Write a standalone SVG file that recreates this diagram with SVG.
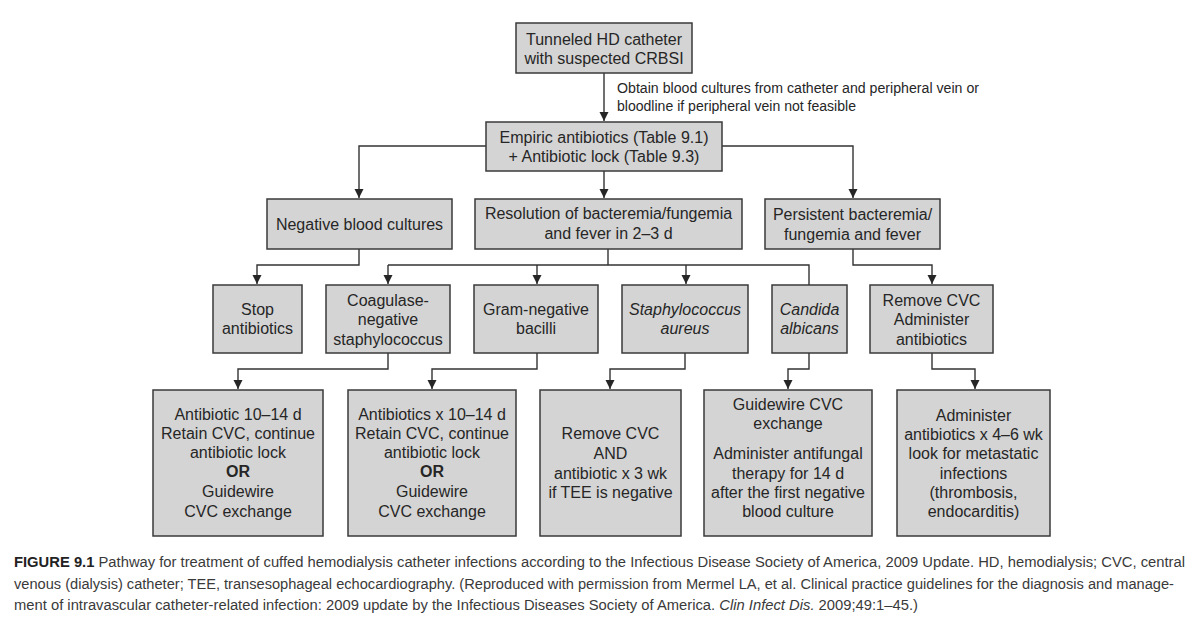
<svg xmlns="http://www.w3.org/2000/svg" width="1200" height="638" viewBox="0 0 1200 638">
<defs>
<marker id="arr" markerUnits="userSpaceOnUse" markerWidth="10" markerHeight="10" refX="9" refY="4.5" orient="auto">
<path d="M0,0 L9,4.5 L0,9 z" fill="#262626"/>
</marker>
<style>
.box{fill:#d4d4d4;stroke:#3a3a3a;stroke-width:1.5}
.t{font-family:"Liberation Sans",Arial,Helvetica,sans-serif;font-size:16px;fill:#262626;text-anchor:middle}
.i{font-style:italic}
.b{font-weight:bold}
.ann{font-family:"Liberation Sans",Arial,Helvetica,sans-serif;font-size:14px;fill:#262626}
.cap{font-family:"Liberation Sans Narrow","Liberation Sans",Arial,sans-serif;font-size:14px;fill:#3a3a3a}
.c{fill:none;stroke:#333;stroke-width:1.4}
.a{marker-end:url(#arr)}
</style>
</defs>
<rect width="1200" height="638" fill="#fff"/>

<g id="connectors">
<path class="c a" d="M604,73 V121"/>
<path class="c a" d="M486,146 H359 V198"/>
<path class="c a" d="M722,146 H853 V198"/>
<path class="c a" d="M604,171 V198"/>
<path class="c a" d="M359,249 V265 H257 V284"/>
<path class="c" d="M608,249 V265"/>
<path class="c" d="M388,265 H809 V285"/>
<path class="c a" d="M388,265 V284"/>
<path class="c a" d="M537,265 V284"/>
<path class="c a" d="M686,265 V284"/>
<path class="c a" d="M853,249 V265 H932 V284"/>
<path class="c a" d="M388,353 V369 H238 V389"/>
<path class="c a" d="M537,353 V369 H432 V389"/>
<path class="c a" d="M685,353 V369 H610 V389"/>
<path class="c a" d="M809,353 V369 H788 V389"/>
<path class="c a" d="M932,353 V369 H975 V389"/>
</g>

<text class="ann" x="617" y="93" textLength="362" lengthAdjust="spacingAndGlyphs">Obtain blood cultures from catheter and peripheral vein or</text>
<text class="ann" x="617" y="111" textLength="239" lengthAdjust="spacingAndGlyphs">bloodline if peripheral vein not feasible</text>

<g id="n-top">
<rect class="box" x="516" y="23" width="176" height="50"/>
<text class="t" x="604" y="45">Tunneled HD catheter</text>
<text class="t" x="604" y="64">with suspected CRBSI</text>
</g>
<g id="n-empiric">
<rect class="box" x="486" y="122" width="236" height="49"/>
<text class="t" x="604" y="143">Empiric antibiotics (Table 9.1)</text>
<text class="t" x="604" y="162">+ Antibiotic lock (Table 9.3)</text>
</g>
<g id="n-negative">
<rect class="box" x="267" y="199" width="185" height="50"/>
<text class="t" x="359.5" y="230">Negative blood cultures</text>
</g>
<g id="n-resolution">
<rect class="box" x="475" y="199" width="267" height="50"/>
<text class="t" x="608.5" y="219">Resolution of bacteremia/fungemia</text>
<text class="t" x="608.5" y="239">and fever in 2–3 d</text>
</g>
<g id="n-persistent">
<rect class="box" x="765" y="199" width="175" height="50"/>
<text class="t" x="852.5" y="220">Persistent bacteremia/</text>
<text class="t" x="852.5" y="240">fungemia and fever</text>
</g>
<g id="n-stop">
<rect class="box" x="213" y="285" width="89" height="68"/>
<text class="t" x="257.5" y="315">Stop</text>
<text class="t" x="257.5" y="334">antibiotics</text>
</g>
<g id="n-coag">
<rect class="box" x="326" y="285" width="124" height="68"/>
<text class="t" x="388" y="306">Coagulase-</text>
<text class="t" x="388" y="325">negative</text>
<text class="t" x="388" y="345">staphylococcus</text>
</g>
<g id="n-gram">
<rect class="box" x="474" y="285" width="124" height="68"/>
<text class="t" x="536" y="315">Gram-negative</text>
<text class="t" x="536" y="334">bacilli</text>
</g>
<g id="n-staph">
<rect class="box" x="622" y="285" width="126" height="68"/>
<text class="t i" x="685" y="315">Staphylococcus</text>
<text class="t i" x="685" y="334">aureus</text>
</g>
<g id="n-candida">
<rect class="box" x="772" y="285" width="75" height="68"/>
<text class="t i" x="809.5" y="315">Candida</text>
<text class="t i" x="809.5" y="334">albicans</text>
</g>
<g id="n-remove">
<rect class="box" x="870" y="285" width="123" height="68"/>
<text class="t" x="931.5" y="306">Remove CVC</text>
<text class="t" x="931.5" y="325">Administer</text>
<text class="t" x="931.5" y="345">antibiotics</text>
</g>
<g id="n-cons">
<rect class="box" x="153" y="390" width="170" height="146"/>
<text class="t" x="238" y="420">Antibiotic 10–14 d</text>
<text class="t" x="238" y="439">Retain CVC, continue</text>
<text class="t" x="238" y="458">antibiotic lock</text>
<text class="t b" x="238" y="477">OR</text>
<text class="t" x="238" y="497">Guidewire</text>
<text class="t" x="238" y="517">CVC exchange</text>
</g>
<g id="n-gnb">
<rect class="box" x="348" y="390" width="168" height="146"/>
<text class="t" x="432" y="420">Antibiotics x 10–14 d</text>
<text class="t" x="432" y="439">Retain CVC, continue</text>
<text class="t" x="432" y="458">antibiotic lock</text>
<text class="t b" x="432" y="477">OR</text>
<text class="t" x="432" y="497">Guidewire</text>
<text class="t" x="432" y="517">CVC exchange</text>
</g>
<g id="n-sa">
<rect class="box" x="540" y="390" width="141" height="146"/>
<text class="t" x="610.5" y="439">Remove CVC</text>
<text class="t" x="610.5" y="459">AND</text>
<text class="t" x="610.5" y="479">antibiotic x 3 wk</text>
<text class="t" x="610.5" y="498">if TEE is negative</text>
</g>
<g id="n-ca">
<rect class="box" x="704" y="390" width="168" height="146"/>
<text class="t" x="788" y="410">Guidewire CVC</text>
<text class="t" x="788" y="429">exchange</text>
<text class="t" x="788" y="459">Administer antifungal</text>
<text class="t" x="788" y="479">therapy for 14 d</text>
<text class="t" x="788" y="498">after the first negative</text>
<text class="t" x="788" y="517">blood culture</text>
</g>
<g id="n-persist">
<rect class="box" x="897" y="390" width="153" height="146"/>
<text class="t" x="973.5" y="421">Administer</text>
<text class="t" x="973.5" y="440">antibiotics x 4–6 wk</text>
<text class="t" x="973.5" y="459">look for metastatic</text>
<text class="t" x="973.5" y="479">infections</text>
<text class="t" x="973.5" y="498">(thrombosis,</text>
<text class="t" x="973.5" y="517">endocarditis)</text>
</g>

<g id="caption">
<text class="cap" x="14" y="567" textLength="1171" lengthAdjust="spacingAndGlyphs"><tspan font-weight="bold" fill="#222">FIGURE 9.1</tspan>  Pathway for treatment of cuffed hemodialysis catheter infections according to the Infectious Disease Society of America, 2009 Update. HD, hemodialysis; CVC, central</text>
<text class="cap" x="14" y="589" textLength="1160" lengthAdjust="spacingAndGlyphs">venous (dialysis) catheter; TEE, transesophageal echocardiography. (Reproduced with permission from Mermel LA, et al. Clinical practice guidelines for the diagnosis and manage-</text>
<text class="cap" x="14" y="610" textLength="904" lengthAdjust="spacingAndGlyphs">ment of intravascular catheter-related infection: 2009 update by the Infectious Diseases Society of America. <tspan font-style="italic">Clin Infect Dis.</tspan> 2009;49:1–45.)</text>
</g>
</svg>
